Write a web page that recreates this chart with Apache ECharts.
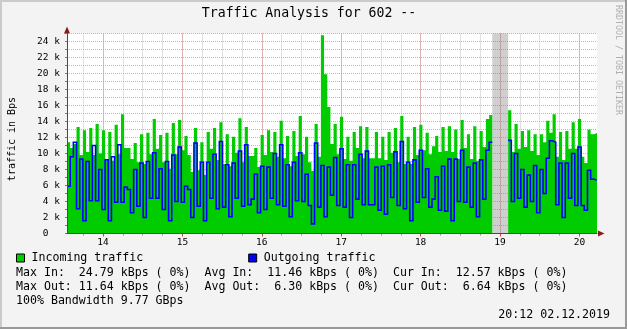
<!DOCTYPE html>
<html><head><meta charset="utf-8">
<script src="https://cdn.jsdelivr.net/npm/echarts@6/dist/echarts.min.js"></script>
<style>html,body{margin:0;padding:0;background:#f3f3f3}#c{width:627px;height:329px}</style>
</head><body><div id="c"></div>
<script>
const inTraffic = [
  11.4, 10.7, 11.2, 13.3, 9.8, 12.9, 10.2, 13.2, 9.8, 13.7, 10.0, 12.9, 9.1, 12.7, 9.1, 13.6, 9.9, 14.9, 10.7, 10.7, 9.3, 11.3, 8.9, 12.4,
  8.7, 12.6, 9.9, 14.3, 10.6, 12.3, 8.9, 12.6, 8.1, 13.8, 9.9, 14.2, 10.4, 12.2, 9.8, 7.7, 13.2, 7.9, 11.4, 7.3, 12.7, 10.6, 13.2,
  9.2, 13.9, 8.7, 12.4, 8.4, 12.1, 10.1, 14.4, 8.9, 13.3, 9.7, 9.7, 10.7, 8.3, 12.3, 9.8, 12.9, 10.2, 12.7, 9.6, 14.1, 9.4, 12.2, 8.4, 12.8,
  9.7, 14.7, 9.9, 12.1, 8.9, 7.8, 13.7, 9.6,
  24.79, 19.9, 15.8,
  11.2, 13.7, 9.9, 14.6, 9.3, 12.1, 9.1, 12.7, 10.7, 13.4, 9.4, 13.3, 9.4,
  9.4,
  12.7, 9.4, 12.1, 9.2, 12.7, 10.1, 13.2, 8.9, 14.7, 8.7, 12.1, 8.7, 13.3, 9.8, 13.6, 10.4, 12.6, 9.9, 10.9, 12.2, 10.2, 13.3, 10.3,
  13.4, 10.2, 13.0, 9.3, 14.2, 10.7, 12.4, 9.3, 13.4, 9.1, 12.8, 10.8, 14.3, 14.8,
  null, null, null, null, null,
  15.4, 10.2, 13.7, 10.6, 12.8, 10.8, 12.9, 10.3, 12.4, 9.8, 12.4, 11.4, 14.1, 12.6, 14.9, 9.6, 12.7, 9.2, 12.8, 10.6, 13.9, 10.6, 14.3, 9.6, 8.8, 13.0, 12.4, 12.57
];
const outTraffic = [
  5.9, 9.6, 11.4, 3.1, 9.3, 1.6, 9.0, 4.1, 11.0, 4.1, 8.0, 3.0, 9.2, 1.6, 9.6, 3.9, 11.1, 3.9, 5.8, 5.5, 2.6, 8.0, 3.4, 8.8,
  2.0, 9.0, 4.4, 10.1, 4.4, 8.1, 3.0, 9.0, 1.6, 9.8, 4.0, 10.8, 3.9, 5.9, 5.5, 2.0, 11.3, 3.4, 8.9, 1.6, 8.9, 4.4, 9.9, 3.1,
  11.5, 3.3, 8.6, 2.1, 8.8, 4.4, 10.3, 3.4, 11.1, 3.6, 4.3, 7.4, 2.6, 8.4, 3.0, 8.3, 4.4, 10.0, 3.6, 11.1, 3.4, 8.6, 2.1, 8.9,
  4.1, 10.1, 4.0, 7.4, 3.5, 1.2, 11.3, 3.3, 8.5, 2.1, 8.3, 4.8, 9.5, 3.5, 10.6, 3.3, 8.6, 2.0, 8.6, 4.3, 9.9, 3.6, 10.3, 3.6,
  3.6, 8.3, 2.9, 8.4, 2.4, 8.6, 4.5, 10.2, 3.5, 11.5, 3.1, 8.9, 1.6, 9.2, 3.9, 10.4, 4.5, 8.1, 3.3, 4.3, 7.1, 2.9, 8.4, 2.8, 9.3,
  1.6, 9.3, 4.0, 10.4, 3.9, 8.3, 3.3, 8.8, 2.1, 9.2, 4.3, 10.4, 11.4,
  null, null, null, null, null,
  11.64, 4.0, 10.0, 4.4, 8.0, 3.3, 7.3, 4.0, 8.5, 2.6, 8.0, 5.0, 9.4, 11.6, 11.4, 3.6, 8.8, 2.0, 8.8, 4.4, 10.0, 3.5, 10.8, 3.5, 2.9, 7.9, 6.8, 6.64
];
const dayLabels = ['14', '15', '16', '17', '18', '19', '20'];
const gapBins = [134, 139];
const legendNames = ['Incoming traffic', 'Outgoing traffic'];
const titleText = 'Traffic Analysis for 602 --';
const yTitle = 'traffic in Bps';
const watermark = 'RRDTOOL / TOBI OETIKER';
const statLines = [
  'Max In:  24.79 kBps ( 0%)  Avg In:  11.46 kBps ( 0%)  Cur In:  12.57 kBps ( 0%)',
  'Max Out: 11.64 kBps ( 0%)  Avg Out:  6.30 kBps ( 0%)  Cur Out:  6.64 kBps ( 0%)',
  '100% Bandwidth 9.77 GBps'
];
const dateText = '20:12 02.12.2019';

const MONO = '"DejaVu Sans Mono", "Liberation Mono", monospace';
const N = inTraffic.length;

function stepPairs(arr) {
  const out = [];
  for (let i = 0; i < arr.length; i++) {
    const v = arr[i];
    if (v == null) {
      if (out.length && out[out.length - 1][1] !== '-') out.push([i, '-']);
      continue;
    }
    out.push([i, v]);
    out.push([i + 1, v]);
  }
  return out;
}

const chart = echarts.init(document.getElementById('c'), null, {renderer: 'canvas', width: 627, height: 329});
const gTop = 33.5, gH = 200;
const option = {
  animation: false,
  backgroundColor: '#f3f3f3',
  textStyle: {fontFamily: MONO},
  grid: [
    {left: 67, width: 530, top: gTop, height: gH, show: true, backgroundColor: '#ffffff', borderWidth: 0},
    {left: 83.15, width: 496.25, top: gTop, height: gH},
    {left: 103, width: 476.4, top: gTop, height: gH}
  ],
  xAxis: [
    {gridIndex: 0, type: 'value', min: 0, max: N, z: 10,
     axisLine: {show: true, lineStyle: {color: '#4a4a4a', width: 1}},
     axisTick: {show: false}, axisLabel: {show: false}, splitLine: {show: false}},
    {gridIndex: 1, type: 'value', min: 0, max: 25, interval: 1,
     axisLine: {show: false}, axisTick: {show: true, length: 2, lineStyle: {color: '#999999'}},
     axisLabel: {show: false},
     splitLine: {show: true, lineStyle: {color: '#c4c4c4', type: [1, 1], width: 1}}},
    {gridIndex: 2, type: 'value', min: 0, max: 6, interval: 1,
     axisLine: {show: false}, axisTick: {show: true, length: 3, lineStyle: {color: '#d04040'}},
     axisLabel: {show: true, margin: 4, fontSize: 9.5, fontFamily: MONO, color: '#000',
                 formatter: v => dayLabels[Math.round(v)] || ''},
     splitLine: {show: true, lineStyle: {color: '#e08a8a', type: [1, 1], width: 1}}}
  ],
  yAxis: [
    {gridIndex: 0, type: 'value', min: 0, max: 25, interval: 1, z: 10,
     axisLine: {show: true, lineStyle: {color: '#4a4a4a', width: 1}},
     axisTick: {show: true, length: 2, lineStyle: {color: '#b06060'}},
     axisLabel: {margin: 7, fontSize: 9.5, fontFamily: MONO, color: '#000',
                 formatter: v => (v % 2 === 0 ? (v === 0 ? '0  ' : v + ' k') : '')},
     splitLine: {show: false}},
    {gridIndex: 0, type: 'value', min: 0, max: 25, interval: 1, position: 'left',
     axisLine: {show: false}, axisTick: {show: false}, axisLabel: {show: false},
     splitLine: {show: true, lineStyle: {color: '#dcaaaa', type: [1, 1], width: 1}}},
    {gridIndex: 1, type: 'value', min: 0, max: 1, show: false},
    {gridIndex: 2, type: 'value', min: 0, max: 1, show: false}
  ],
  legend: {
    left: 16, top: 252, padding: 0, itemWidth: 8, itemHeight: 8, itemGap: 105,
    icon: 'rect', selectedMode: false,
    itemStyle: {borderColor: '#000', borderWidth: 1},
    textStyle: {fontFamily: MONO, fontSize: 11.6, color: '#000', padding: [0, 0, 0, 2]},
    data: legendNames.map(n => ({name: n, icon: 'rect'}))
  },
  series: [
    {name: legendNames[0], type: 'line', xAxisIndex: 0, yAxisIndex: 0,
     data: stepPairs(inTraffic), symbol: 'none', showSymbol: false, connectNulls: false,
     lineStyle: {width: 0, color: '#00cc00'}, itemStyle: {color: '#00cc00'},
     areaStyle: {color: '#00cc00', opacity: 1}, silent: true, z: 2},
    {name: legendNames[1], type: 'line', xAxisIndex: 0, yAxisIndex: 0,
     data: stepPairs(outTraffic), symbol: 'none', showSymbol: false, connectNulls: false,
     lineStyle: {width: 1.6, color: '#0000ff', join: 'miter', cap: 'butt'},
     itemStyle: {color: '#0000ff'}, silent: true, z: 3,
     markArea: {silent: true, itemStyle: {color: 'rgba(140,140,140,0.42)'},
                label: {show: false},
                data: [[{xAxis: gapBins[0]}, {xAxis: gapBins[1]}]]}}
  ],
  graphic: [
    {type: 'rect', shape: {x: 0, y: 0, width: 627, height: 2}, style: {fill: '#cbcbcb'}, silent: true},
    {type: 'rect', shape: {x: 0, y: 0, width: 2, height: 329}, style: {fill: '#cbcbcb'}, silent: true},
    {type: 'rect', shape: {x: 625, y: 0, width: 2, height: 329}, style: {fill: '#999999'}, silent: true},
    {type: 'rect', shape: {x: 0, y: 327, width: 627, height: 2}, style: {fill: '#999999'}, silent: true},
    {type: 'polygon', shape: {points: [[64, 33.5], [70, 33.5], [67, 26.5]]}, style: {fill: '#8b1a1a'}, silent: true},
    {type: 'polygon', shape: {points: [[598, 230.5], [598, 236.5], [604.5, 233.5]]}, style: {fill: '#8b1a1a'}, silent: true},
    {type: 'text', x: 309, y: 14, silent: true,
     style: {text: titleText, font: '13.2px ' + MONO, fill: '#000', align: 'center', verticalAlign: 'middle'}},
    {type: 'text', x: 12, y: 139, rotation: Math.PI / 2, silent: true,
     style: {text: yTitle, font: '10px ' + MONO, fill: '#000', align: 'center', verticalAlign: 'middle'}},
    {type: 'text', x: 618, y: 60, rotation: -Math.PI / 2, silent: true,
     style: {text: watermark, font: '8.3px ' + MONO, fill: '#b0b0b0', align: 'center', verticalAlign: 'middle'}},
    {type: 'text', x: 16, y: 273.3, silent: true,
     style: {text: statLines[0], font: '11.6px ' + MONO, fill: '#000', align: 'left', verticalAlign: 'middle'}},
    {type: 'text', x: 16, y: 287.3, silent: true,
     style: {text: statLines[1], font: '11.6px ' + MONO, fill: '#000', align: 'left', verticalAlign: 'middle'}},
    {type: 'text', x: 16, y: 301.2, silent: true,
     style: {text: statLines[2], font: '11.6px ' + MONO, fill: '#000', align: 'left', verticalAlign: 'middle'}},
    {type: 'text', x: 610, y: 315.3, silent: true,
     style: {text: dateText, font: '11.6px ' + MONO, fill: '#000', align: 'right', verticalAlign: 'middle'}}
  ]
};
chart.setOption(option);
</script>
</body></html>
